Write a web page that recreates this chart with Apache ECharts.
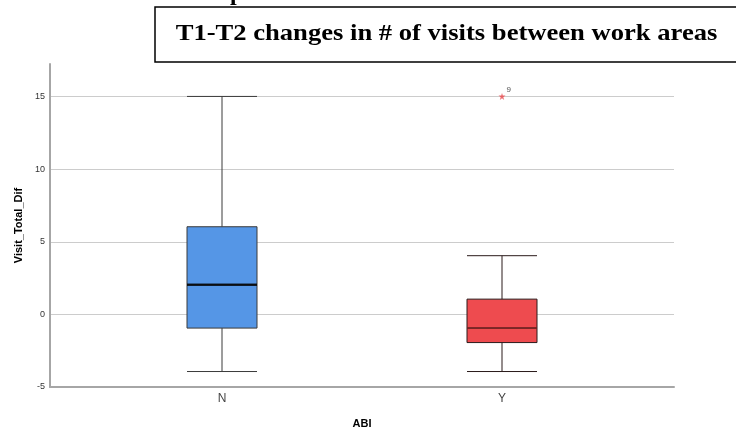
<!DOCTYPE html>
<html>
<head>
<meta charset="utf-8">
<script src="https://cdn.jsdelivr.net/npm/echarts@6/dist/echarts.min.js"></script>
<style>html,body{margin:0;padding:0;background:#fff;}#c{width:736px;height:434px;}</style>
</head>
<body>
<div id="c"></div>
<script>
var categories = ['N', 'Y'];
// [min, Q1, median, Q3, max]
var boxN = [-4, -1, 2, 6, 15];
var boxY = [-4, -2, -1, 1, 4];
var medians = [2, -1];
var outliers = [['Y', 15, '9']];
var yTicks = [-5, 0, 5, 10, 15];
var yMin = -5, yMax = 17.24, yStep = 5;

var chart = echarts.init(document.getElementById('c'), null, {renderer: 'canvas'});
var labelFont = 'Liberation Sans';
var option = {
  animation: false,
  backgroundColor: '#fff',
  graphic: [
    {type: 'rect', shape: {x: 155, y: 7, width: 620, height: 55}, style: {fill: '#fff', stroke: '#000', lineWidth: 1.5}},
    {type: 'text', x: 446.5, y: 34, scaleX: 1.108, originX: 0, originY: 0,
     style: {text: 'T1-T2 changes in # of visits between work areas', fontFamily: 'Liberation Serif', fontWeight: 'bold', fontSize: 24, fill: '#000', textAlign: 'center', textVerticalAlign: 'middle'}},
    {type: 'text', x: 230, y: 6, style: {text: 'p', fontFamily: 'Liberation Serif', fontWeight: 'bold', fontSize: 24, fill: '#000', textAlign: 'left', textVerticalAlign: 'bottom'}}
  ],
  grid: [
    {left: 50, right: 62, top: 64, bottom: 47},
    {left: 82, right: 94, top: 64, bottom: 47}
  ],
  xAxis: [
    {gridIndex: 0, type: 'category', data: categories, axisLine: {show: true, onZero: false, lineStyle: {color: '#a6a6a6', width: 2}}, axisTick: {show: false}, axisLabel: {show: false}, splitLine: {show: false}},
    {gridIndex: 1, type: 'category', data: categories, axisLine: {show: false, onZero: false}, axisTick: {show: false},
     axisLabel: {fontFamily: labelFont, fontSize: 12, color: '#444', margin: 7},
     name: 'ABI', nameLocation: 'middle', nameGap: 32, nameTextStyle: {fontFamily: labelFont, fontSize: 11, fontWeight: 'bold', color: '#000'}}
  ],
  yAxis: [
    {gridIndex: 0, type: 'value', min: yMin, max: yMax, interval: yStep,
     axisLine: {show: true, lineStyle: {color: '#a6a6a6', width: 2}}, axisTick: {show: false},
     axisLabel: {fontFamily: labelFont, fontSize: 9, color: '#333', margin: 5, showMaxLabel: false,
       formatter: function (v) { return yTicks.indexOf(v) >= 0 ? String(v) : ''; }},
     splitLine: {show: true, showMinLine: false, showMaxLine: false, lineStyle: {color: '#cccccc', width: 1}},
     name: 'Visit_Total_Dif', nameLocation: 'middle', nameRotate: 90, nameGap: 25,
     nameTextStyle: {fontFamily: labelFont, fontSize: 11, fontWeight: 'bold', color: '#000'}},
    {gridIndex: 1, type: 'value', min: yMin, max: yMax, interval: yStep, show: false, splitLine: {show: false}}
  ],
  series: [
    {type: 'boxplot', xAxisIndex: 1, yAxisIndex: 1, boxWidth: [70, 70],
     data: [
       {value: boxN, itemStyle: {color: '#5596e6', borderColor: '#3a3a3a', borderWidth: 1}},
       {value: boxY, itemStyle: {color: '#ee4b4f', borderColor: '#2a1a1a', borderWidth: 1}}
     ]},
    {type: 'scatter', xAxisIndex: 1, yAxisIndex: 1, symbol: 'rect', silent: true, z: 5,
     data: [
       {value: [categories[0], medians[0]], symbolSize: [70, 2.5], itemStyle: {color: '#000'}},
       {value: [categories[1], medians[1]], symbolSize: [70, 2], itemStyle: {color: '#7a2424'}}
     ]},
    {type: 'scatter', xAxisIndex: 1, yAxisIndex: 1, z: 6,
     symbol: 'path://M0,-10L2.2,-3.1L9.5,-3.1L3.6,1.2L5.9,8.1L0,3.8L-5.9,8.1L-3.6,1.2L-9.5,-3.1L-2.2,-3.1Z',
     symbolSize: 7, itemStyle: {color: '#e8474b'},
     label: {show: true, position: 'right', distance: 1, offset: [0, -7], fontFamily: labelFont, fontSize: 8, color: '#222',
       formatter: function (p) { return p.data[2]; }},
     data: outliers}
  ]
};
chart.setOption(option);
</script>
</body>
</html>
